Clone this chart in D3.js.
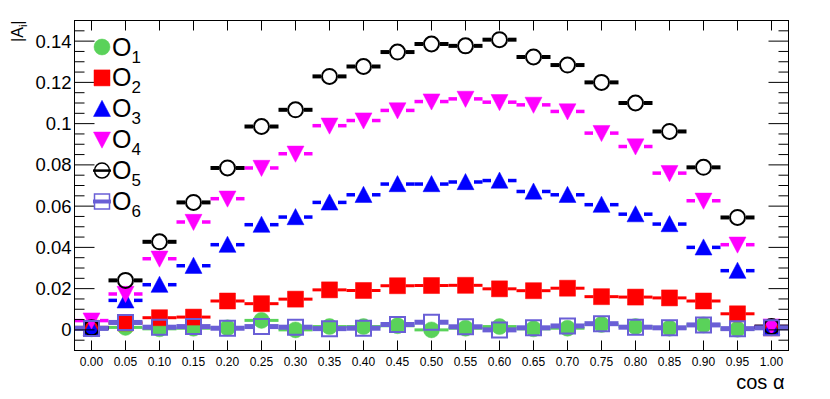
<!DOCTYPE html>
<html>
<head>
<meta charset="utf-8">
<script src="https://cdn.jsdelivr.net/npm/d3@7"></script>
<style>
  body { margin: 0; background: #fff; }
  svg { display: block; font-family: 'Liberation Sans', Arial, sans-serif; }
</style>
</head>
<body>
<svg id="chart" width="830" height="399"></svg>
<script>
// bin centres in cos alpha
const binCenters = [0.00, 0.05, 0.10, 0.15, 0.20, 0.25, 0.30, 0.35, 0.40, 0.45, 0.50,
  0.55, 0.60, 0.65, 0.70, 0.75, 0.80, 0.85, 0.90, 0.95, 1.00]
const xTickLabels = binCenters.map(d => d.toFixed(2))
const yTickValues = [0, 0.02, 0.04, 0.06, 0.08, 0.1, 0.12, 0.14]
const seriesNames = ['1', '2', '3', '4', '5', '6']

// |A_i| values
const o1 = [0.0005, 0.0012, 0.0005, 0.0008, 0.0010, 0.0046, 0.0000, 0.0016, 0.0016, 0.0020, 0.0000,
  0.0008, 0.0016, 0.0005, 0.0008, 0.0026, 0.0016, 0.0008, 0.0024, 0.0003, 0.0010]
const o2 = [0.0008, 0.0034, 0.0059, 0.0062, 0.0140, 0.0127, 0.0149, 0.0194, 0.0191, 0.0214, 0.0215,
  0.0216, 0.0199, 0.0190, 0.0202, 0.0161, 0.0159, 0.0155, 0.0140, 0.0078, 0.0010]
const o3 = [0.0010, 0.0143, 0.0219, 0.0311, 0.0413, 0.0510, 0.0547, 0.0618, 0.0655, 0.0707, 0.0707,
  0.0717, 0.0724, 0.0671, 0.0655, 0.0607, 0.0561, 0.0513, 0.0400, 0.0287, 0.0012]
const o4 = [0.0045, 0.0174, 0.0345, 0.0523, 0.0636, 0.0785, 0.0854, 0.0990, 0.1015, 0.1064, 0.1107,
  0.1120, 0.1104, 0.1091, 0.1059, 0.0954, 0.0889, 0.0760, 0.0626, 0.0413, 0.0016]
const o5 = [0.0010, 0.0240, 0.0427, 0.0618, 0.0785, 0.0986, 0.1067, 0.1229, 0.1277, 0.1347, 0.1386,
  0.1377, 0.1407, 0.1323, 0.1284, 0.1200, 0.1100, 0.0962, 0.0788, 0.0545, 0.0016]
const o6 = [0.0007, 0.0036, 0.0013, 0.0016, 0.0008, 0.0016, 0.0013, 0.0006, 0.0008, 0.0026, 0.0037,
  0.0015, 0.0000, 0.0010, 0.0019, 0.0030, 0.0013, 0.0010, 0.0024, 0.0006, 0.0010]

const binWidth = 0.05

const margin = {top: 20.5, right: 41.5, bottom: 48.5, left: 74.5}
const svg = d3.select('#chart')
const width = +svg.attr('width') - margin.left - margin.right
const height = +svg.attr('height') - margin.top - margin.bottom

const x = d3.scaleLinear().domain([-0.025, 1.025]).range([0, width])
const y = d3.scaleLinear().domain([-0.01, 0.15]).range([height, 0])

const g = svg.append('g')
  .attr('transform', 'translate(' + margin.left + ',' + margin.top + ')')

// marker shapes (half size h)
function markerPath (shape, h) {
  const p = d3.path()
  if (shape === 'circle') {
    p.arc(0, 0, h, 0, 2 * Math.PI)
  } else if (shape === 'square') {
    p.rect(-h, -h, 2 * h, 2 * h)
  } else if (shape === 'up') {
    p.moveTo(0, -h); p.lineTo(h, h * 0.9); p.lineTo(-h, h * 0.9); p.closePath()
  } else if (shape === 'down') {
    p.moveTo(0, h); p.lineTo(h, -h * 0.9); p.lineTo(-h, -h * 0.9); p.closePath()
  }
  return p.toString()
}

const series = [
  {name: '1', values: o1, color: '#5ad25a', shape: 'circle', h: 8, fill: true, lw: 3},
  {name: '2', values: o2, color: '#ff0000', shape: 'square', h: 8, fill: true, lw: 3},
  {name: '3', values: o3, color: '#0000ff', shape: 'up', h: 8.5, fill: true, lw: 3.5},
  {name: '4', values: o4, color: '#ff00ff', shape: 'down', h: 8.5, fill: true, lw: 3.5},
  {name: '5', values: o5, color: '#000000', shape: 'circle', h: 8.5, fill: false, lw: 4},
  {name: '6', values: o6, color: '#6a5fd6', shape: 'square', h: 8.5, fill: false, lw: 5}
]

// data
series.forEach(function (s) {
  const sg = g.append('g').attr('class', 'series')
  const pts = binCenters.map((c, i) => ({c: c, v: s.values[i]}))
  // horizontal bars (bin width), with a gap round the marker
  sg.selectAll('.barL')
    .data(pts).enter().append('line')
    .attr('x1', d => x(d.c - binWidth / 2))
    .attr('x2', d => x(d.c) - s.h)
    .attr('y1', d => y(d.v)).attr('y2', d => y(d.v))
    .attr('stroke', s.color).attr('stroke-width', s.lw)
  sg.selectAll('.barR')
    .data(pts).enter().append('line')
    .attr('x1', d => x(d.c) + s.h)
    .attr('x2', d => x(d.c + binWidth / 2))
    .attr('y1', d => y(d.v)).attr('y2', d => y(d.v))
    .attr('stroke', s.color).attr('stroke-width', s.lw)
  sg.selectAll('.mk')
    .data(pts).enter().append('path')
    .attr('transform', d => 'translate(' + x(d.c) + ',' + y(d.v) + ')')
    .attr('d', markerPath(s.shape, s.fill ? s.h : s.h - 1))
    .attr('fill', s.fill ? s.color : 'none')
    .attr('stroke', s.color)
    .attr('stroke-width', s.fill ? 0.5 : 2)
})

// frame
g.append('rect')
  .attr('width', width).attr('height', height)
  .attr('fill', 'none').attr('stroke', '#000').attr('stroke-width', 1)

// x ticks (bottom and top)
const xTicks = g.append('g')
xTicks.selectAll('.xb').data(binCenters).enter().append('line')
  .attr('x1', d => x(d)).attr('x2', d => x(d))
  .attr('y1', height).attr('y2', height - 10)
  .attr('stroke', '#000')
xTicks.selectAll('.xt').data(binCenters).enter().append('line')
  .attr('x1', d => x(d)).attr('x2', d => x(d))
  .attr('y1', 0).attr('y2', 10)
  .attr('stroke', '#000')
xTicks.selectAll('text').data(binCenters).enter().append('text')
  .attr('x', d => x(d)).attr('y', height + 15)
  .attr('text-anchor', 'middle').attr('font-size', 12)
  .text((d, i) => xTickLabels[i])

// y ticks (left and right), minor every 0.005
const yMinor = d3.range(-0.005, 0.1501, 0.005)
const isMajor = d => Math.abs(Math.round(d / 0.02) * 0.02 - d) < 1e-6
const yTicks = g.append('g')
yTicks.selectAll('.yl').data(yMinor).enter().append('line')
  .attr('x1', 0)
  .attr('x2', d => (isMajor(d) ? 20 : 10))
  .attr('y1', d => y(d)).attr('y2', d => y(d))
  .attr('stroke', '#000')
yTicks.selectAll('.yr').data(yMinor).enter().append('line')
  .attr('x1', width)
  .attr('x2', d => width - (isMajor(d) ? 20 : 10))
  .attr('y1', d => y(d)).attr('y2', d => y(d))
  .attr('stroke', '#000')
yTicks.selectAll('text').data(yTickValues).enter().append('text')
  .attr('x', -3).attr('y', d => y(d) + 6.5)
  .attr('text-anchor', 'end').attr('font-size', 18.5)
  .text(d => (d === 0 ? '0' : String(+d.toFixed(2))))

// axis titles
const yTitle = svg.append('text')
  .attr('transform', 'translate(23,' + margin.top + ') rotate(-90)')
  .attr('text-anchor', 'end').attr('font-size', 16)
yTitle.append('tspan').text('|A')
yTitle.append('tspan').attr('font-size', 11).attr('dy', 4).text('i')
yTitle.append('tspan').attr('dy', -4).text('|')

svg.append('text')
  .attr('x', margin.left + width - 4).attr('y', 389)
  .attr('text-anchor', 'end').attr('font-size', 20)
  .text('cos α')

// legend
const legend = svg.append('g')
series.forEach(function (s, i) {
  const cy = 47 + i * 30.9
  const lx = 102
  if (!s.fill) {
    legend.append('line')
      .attr('x1', lx - 9).attr('x2', lx + 9)
      .attr('y1', cy).attr('y2', cy)
      .attr('stroke', s.color).attr('stroke-width', s.name === '6' ? 4 : 2.5)
  }
  legend.append('path')
    .attr('transform', 'translate(' + lx + ',' + cy + ')')
    .attr('d', markerPath(s.shape, s.fill ? s.h : s.h - 1))
    .attr('fill', s.fill ? s.color : 'none')
    .attr('stroke', s.color)
    .attr('stroke-width', s.fill ? 0.5 : 1.5)
  const t = legend.append('text')
    .attr('x', 112).attr('y', cy + 8.5)
    .attr('font-size', 25)
  t.append('tspan').text('O')
  t.append('tspan').attr('font-size', 17).attr('dy', 7).text(seriesNames[i])
})
</script>
</body>
</html>
